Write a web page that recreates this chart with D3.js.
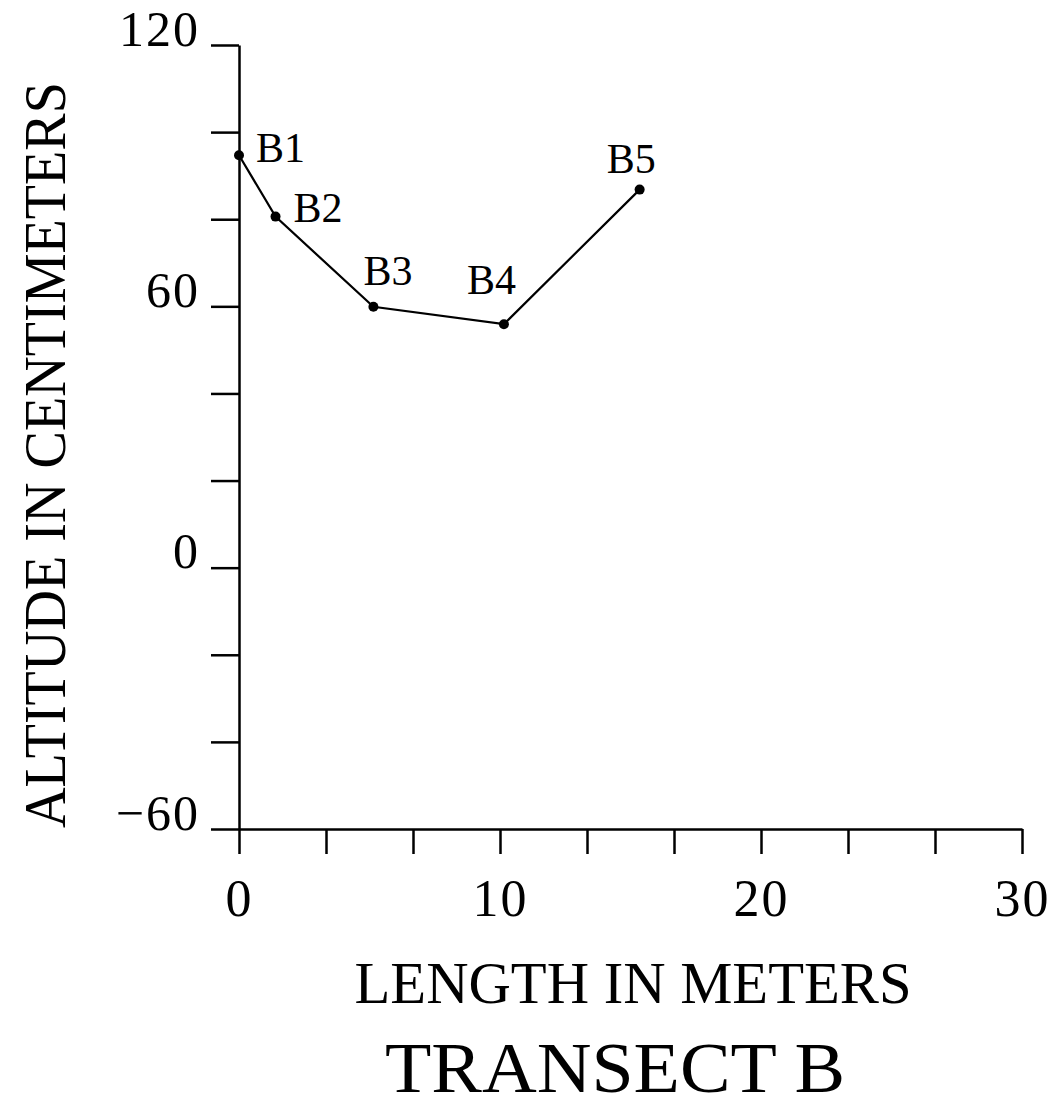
<!DOCTYPE html>
<html>
<head>
<meta charset="utf-8">
<script src="https://cdn.jsdelivr.net/npm/d3@7"></script>
<style>
  body { margin: 0; background: #fff; }
  svg text { font-family: "Liberation Serif", "DejaVu Serif", serif; fill: #000; }
</style>
</head>
<body>
<script>
// transect B stations
const names = ["B1", "B2", "B3", "B4", "B5"];
const lengthM = [0, 1.4, 5.15, 10.15, 15.35];
const altitudeCm = [94.7, 80.6, 59.9, 55.9, 86.8];

const xTickVals = d3.range(0, 30.01, 10 / 3);
const xLabelVals = [0, 10, 20, 30];
const yTickVals = d3.range(-60, 121, 20);
const yLabelVals = [-60, 0, 60, 120];

// label nudges relative to each point (px)
const labelDx = [17, 18, -10, -37, -33];
const labelDy = [7, 5, -22, -30, -17];

const W = 1060, H = 1108;
const svg = d3.select("body").append("svg").attr("width", W).attr("height", H);

const x = d3.scaleLinear().domain([0, 30]).range([239, 1022]);
const y = d3.scaleLinear().domain([-60, 120]).range([829, 45]);

const near = (v, list) => list.some(l => Math.abs(l - v) < 1e-6);

// y axis
const yAxis = svg.append("g")
  .attr("transform", `translate(${x(0)},0)`)
  .call(d3.axisLeft(y).tickValues(yTickVals).tickSize(28).tickSizeOuter(0).tickPadding(11)
    .tickFormat(d => near(d, yLabelVals) ? d3.format("d")(d) : ""));
yAxis.selectAll("text").attr("dy", "0")
  .style("font-size", "50px").style("letter-spacing", "2px");

// x axis
const xAxis = svg.append("g")
  .attr("transform", `translate(0,${y(-60)})`)
  .call(d3.axisBottom(x).tickValues(xTickVals).tickSize(25).tickSizeOuter(0)
    .tickFormat(d => near(d, xLabelVals) ? d3.format("d")(Math.round(d)) : ""));
xAxis.selectAll("text").attr("y", 87).attr("dy", "0")
  .style("font-size", "52px").style("letter-spacing", "2px");

svg.selectAll(".domain, .tick line").attr("stroke", "#000").attr("stroke-width", 2.5);

// profile line
const pts = lengthM.map((v, i) => [v, altitudeCm[i]]);
svg.append("path")
  .datum(pts)
  .attr("fill", "none")
  .attr("stroke", "#000")
  .attr("stroke-width", 2.2)
  .attr("d", d3.line().x(d => x(d[0])).y(d => y(d[1])));

svg.selectAll("circle.pt")
  .data(pts)
  .join("circle")
  .attr("class", "pt")
  .attr("cx", d => x(d[0]))
  .attr("cy", d => y(d[1]))
  .attr("r", 5)
  .attr("fill", "#000");

svg.selectAll("text.lbl")
  .data(names)
  .join("text")
  .attr("class", "lbl")
  .attr("x", (d, i) => x(lengthM[i]) + labelDx[i])
  .attr("y", (d, i) => y(altitudeCm[i]) + labelDy[i])
  .style("font-size", "42px")
  .text(d => d);

// titles
svg.append("text")
  .attr("x", 633).attr("y", 1003)
  .attr("text-anchor", "middle")
  .attr("textLength", 557).attr("lengthAdjust", "spacingAndGlyphs")
  .style("font-size", "60px")
  .text("LENGTH IN METERS");

svg.append("text")
  .attr("x", 615).attr("y", 1092)
  .attr("text-anchor", "middle")
  .attr("textLength", 460).attr("lengthAdjust", "spacingAndGlyphs")
  .style("font-size", "72px")
  .text("TRANSECT B");

svg.append("text")
  .attr("transform", "translate(65,455) rotate(-90)")
  .attr("text-anchor", "middle")
  .attr("textLength", 746).attr("lengthAdjust", "spacingAndGlyphs")
  .style("font-size", "60px")
  .text("ALTITUDE IN CENTIMETERS");
</script>
</body>
</html>
